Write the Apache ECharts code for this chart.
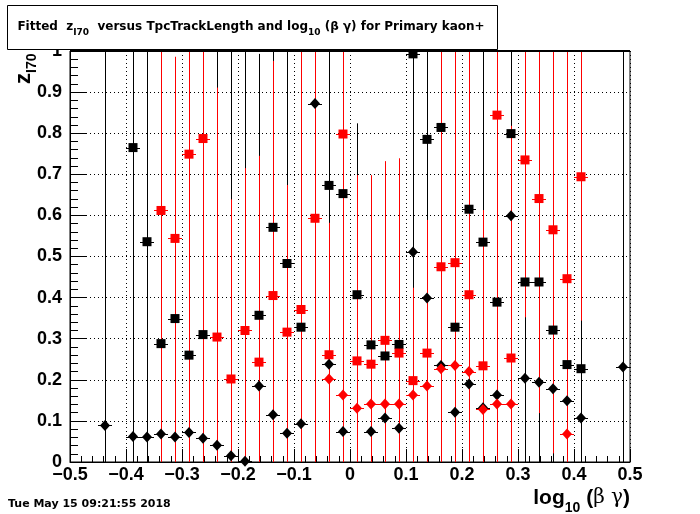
<!DOCTYPE html>
<html><head><meta charset="utf-8">
<script src="https://cdn.jsdelivr.net/npm/echarts@6/dist/echarts.min.js"></script>
<style>html,body{margin:0;padding:0;background:#fff}#c{width:700px;height:514px}</style>
</head><body><div id="c"></div>
<script>
// ---- data (x = log10(beta*gamma) bin centre, y = fitted z_I70) ----
const blackSquares = [
  [-0.3875,0.765],[-0.3625,0.536],[-0.3375,0.288],[-0.3125,0.349],[-0.2875,0.260],[-0.2625,0.310],
  [-0.1625,0.357],[-0.1375,0.571],[-0.1125,0.483],[-0.0875,0.328],[-0.0375,0.673],[-0.0125,0.653],
  [0.0125,0.407],[0.0375,0.285],[0.0625,0.258],[0.0875,0.286],[0.1125,0.993],[0.1375,0.785],
  [0.1625,0.814],[0.1875,0.328],[0.2125,0.615],[0.2375,0.535],[0.2625,0.389],[0.2875,0.799],
  [0.3125,0.438],[0.3375,0.438],[0.3625,0.321],[0.3875,0.237],[0.4125,0.227]
];
const blackDiamonds = [
  [-0.4375,0.089],[-0.3875,0.062],[-0.3625,0.061],[-0.3375,0.068],[-0.3125,0.061],[-0.2875,0.072],
  [-0.2625,0.058],[-0.2375,0.041],[-0.2125,0.015],[-0.1875,0.002],[-0.1625,0.185],[-0.1375,0.115],
  [-0.1125,0.070],[-0.0875,0.093],[-0.0625,0.872],[-0.0375,0.238],[-0.0125,0.074],[0.0375,0.074],
  [0.0625,0.107],[0.0875,0.082],[0.1125,0.511],[0.1375,0.399],[0.1625,0.235],[0.1875,0.121],
  [0.2125,0.190],[0.2375,0.132],[0.2625,0.163],[0.2875,0.599],[0.3125,0.204],[0.3375,0.194],
  [0.3625,0.178],[0.3875,0.149],[0.4125,0.107],[0.4875,0.231]
];
const redSquares = [
  [-0.3375,0.612],[-0.3125,0.544],[-0.2875,0.749],[-0.2625,0.787],[-0.2375,0.304],[-0.2125,0.202],
  [-0.1875,0.320],[-0.1625,0.243],[-0.1375,0.405],[-0.1125,0.316],[-0.0875,0.371],[-0.0625,0.593],
  [-0.0375,0.261],[-0.0125,0.798],[0.0125,0.246],[0.0375,0.238],[0.0625,0.296],[0.0875,0.265],
  [0.1125,0.198],[0.1375,0.265],[0.1625,0.475],[0.1875,0.485],[0.2125,0.407],[0.2375,0.234],
  [0.2625,0.844],[0.2875,0.253],[0.3125,0.735],[0.3375,0.641],[0.3625,0.565],[0.3875,0.446],
  [0.4125,0.694]
];
const redDiamonds = [
  [-0.0375,0.202],[-0.0125,0.163],[0.0125,0.131],[0.0375,0.141],[0.0625,0.141],[0.0875,0.141],
  [0.1125,0.163],[0.1375,0.185],[0.1625,0.227],[0.1875,0.235],[0.2125,0.220],[0.2375,0.128],
  [0.2625,0.141],[0.2875,0.141],[0.3875,0.068]
];
// vertical error bars [x, low, high] (clipped to the frame)
const blackErrors = [
  [-0.4375,0,1],[-0.3875,0,1],[-0.3625,0,1],[-0.2375,0,1],[-0.2125,0,1],[-0.1875,0,1],
  [-0.1625,0,0.993],[-0.1375,0,1],[-0.1125,0,1],[-0.0375,0,1],[0.0125,0,0.824],[0.1125,0,1],
  [0.1375,0,1],[0.2375,0,1],[0.2875,0,1],[0.3125,0,1],[0.3375,0,1],[0.3625,0,1],[0.4125,0,1],
  [0.4875,0,1]
];
const redErrors = [
  [-0.3375,0,1],[-0.3125,0,0.986],[-0.2875,0,1],[-0.2625,0,1],[-0.2375,0,0.911],[-0.2125,0,0.639],
  [-0.1875,0,0.715],[-0.1625,0,0.745],[-0.1375,0,0.976],[-0.1125,0,0.674],[-0.0875,0,1],[-0.0625,0,1],
  [-0.0375,0,0.582],[-0.0125,0,1],[0.0125,0,0.698],[0.0375,0,0.698],[0.0625,0,0.732],[0.0875,0,0.739],
  [0.1125,0,0.424],[0.1375,0,0.589],[0.1625,0,1],[0.1875,0,1],[0.2125,0,1],[0.2375,0,0.613],
  [0.2625,0,1],[0.2875,0,0.818],[0.3125,0.352,1],[0.3375,0.119,1],[0.3625,0.021,1],[0.3875,0,1],
  [0.4125,0.344,1]
];
const xErr = 0.0125;
const xMin = -0.5, xMax = 0.5, xStep = 0.1;
const yMin = 0, yMax = 1, yStep = 0.1;

const chart = echarts.init(document.getElementById('c'), null, {renderer: 'canvas'});
const crisp = v => Math.round(v) + 0.5;

function vErrSeries(data, color, z) {
  return {
    type: 'custom', z: z, silent: true, data: data, clip: true,
    encode: {x: 0, y: [1, 2]},
    renderItem: function (params, api) {
      const a = api.coord([api.value(0), api.value(1)]);
      const b = api.coord([api.value(0), api.value(2)]);
      const x = crisp(a[0]);
      return {type: 'line', shape: {x1: x, y1: a[1], x2: x, y2: b[1]},
              style: {stroke: color, lineWidth: 1}};
    }
  };
}
function hErrSeries(data, color, z) {
  return {
    type: 'custom', z: z, silent: true, data: data,
    encode: {x: 0, y: 1},
    renderItem: function (params, api) {
      const a = api.coord([api.value(0) - xErr, api.value(1)]);
      const b = api.coord([api.value(0) + xErr, api.value(1)]);
      const y = crisp(a[1]);
      return {type: 'line', shape: {x1: a[0], y1: y, x2: b[0], y2: y},
              style: {stroke: color, lineWidth: 1}};
    }
  };
}
function markSeries(data, color, symbol, size, z) {
  return {type: 'scatter', z: z, silent: true, data: data, symbol: symbol, symbolSize: size,
          itemStyle: {color: color, opacity: 1}};
}

const dotted = {color: '#000', width: 1, type: [1, 3]};
chart.setOption({
  animation: false,
  backgroundColor: '#fff',
  grid: {left: 70, top: 51, width: 560, height: 411, show: true, borderColor: '#000', borderWidth: 1, backgroundColor: 'transparent'},
  xAxis: {
    type: 'value', min: xMin, max: xMax, interval: xStep,
    axisLine: {show: true, onZero: false, lineStyle: {color: '#000', width: 1}},
    axisTick: {show: true, inside: true, length: 13, lineStyle: {color: '#000'}},
    minorTick: {show: true, splitNumber: 5, length: 6, lineStyle: {color: '#000'}},
    splitLine: {show: true, lineStyle: dotted},
    axisLabel: {color: '#000', fontFamily: 'Liberation Sans', fontWeight: 'bold', fontSize: 18, margin: 4,
                formatter: v => (Math.abs(v) < 1e-9 ? '0' : String(+v.toFixed(1)).replace('-', '\u2212'))}
  },
  yAxis: {
    type: 'value', min: yMin, max: yMax, interval: yStep,
    axisLine: {show: true, onZero: false, lineStyle: {color: '#000', width: 1}},
    axisTick: {show: true, inside: true, length: 16, lineStyle: {color: '#000'}},
    minorTick: {show: true, splitNumber: 5, length: 8, lineStyle: {color: '#000'}},
    splitLine: {show: true, lineStyle: dotted},
    axisLabel: {color: '#000', fontFamily: 'Liberation Sans', fontWeight: 'bold', fontSize: 18, margin: 8,
                formatter: v => (Math.abs(v) < 1e-9 ? '0' : String(+v.toFixed(1)))}
  },
  series: [
    vErrSeries(blackErrors, '#000', 1),
    vErrSeries(redErrors, '#ff0000', 2),
    hErrSeries(blackSquares, '#000', 3), markSeries(blackSquares, '#000', 'rect', 9, 4),
    hErrSeries(blackDiamonds, '#000', 5), markSeries(blackDiamonds, '#000', 'diamond', [10, 11], 6),
    hErrSeries(redSquares, '#ff0000', 7), markSeries(redSquares, '#ff0000', 'rect', 9, 8),
    hErrSeries(redDiamonds, '#ff0000', 9), markSeries(redDiamonds, '#ff0000', 'diamond', [10, 11], 10)
  ],
  graphic: [
    {type: 'line', z: 60, shape: {x1: 70, y1: 51, x2: 630, y2: 51}, style: {stroke: '#000', lineWidth: 2}},
    {type: 'rect', z: 100, shape: {x: 7.5, y: 5.5, width: 490, height: 44},
     style: {fill: '#fff', stroke: '#000', lineWidth: 1}},
    {type: 'text', z: 101, x: 251, y: 27,
     style: {text: '{b|Fitted  z}{s|I70}{b|  versus TpcTrackLength and log}{s|10}{b| (\u03b2 \u03b3) for Primary kaon+}',
             align: 'center', verticalAlign: 'middle',
             rich: {b: {fontFamily: 'DejaVu Sans', fontWeight: 'bold', fontSize: 12, fill: '#000'},
                    s: {fontFamily: 'DejaVu Sans', fontWeight: 'bold', fontSize: 9, fill: '#000', padding: [11, 0, 0, 0]}}}},
    {type: 'text', z: 50, x: 24, y: 84, rotation: Math.PI / 2,
     style: {text: '{b|z}{s|I70}', align: 'left', verticalAlign: 'middle',
             rich: {b: {fontFamily: 'Liberation Sans', fontWeight: 'bold', fontSize: 22, fill: '#000'},
                    s: {fontFamily: 'Liberation Sans', fontWeight: 'bold', fontSize: 14, fill: '#000', padding: [16, 0, 0, 0]}}}},
    {type: 'text', z: 50, x: 630, y: 498,
     style: {text: '{b|log}{s|10}{b| (}{g|\u03b2 \u03b3}{b|)}', align: 'right', verticalAlign: 'middle',
             rich: {b: {fontFamily: 'Liberation Sans', fontWeight: 'bold', fontSize: 21, fill: '#000'},
                    g: {fontFamily: 'DejaVu Serif', fontSize: 20, fill: '#000'},
                    s: {fontFamily: 'Liberation Sans', fontWeight: 'bold', fontSize: 14, fill: '#000', padding: [20, 0, 0, 0]}}}},
    {type: 'text', z: 50, x: 8, y: 504,
     style: {text: 'Tue May 15 09:21:55 2018', align: 'left', verticalAlign: 'middle',
             fontFamily: 'DejaVu Sans', fontWeight: 'bold', fontSize: 11, fill: '#000'}}
  ]
});
</script>
</body></html>
